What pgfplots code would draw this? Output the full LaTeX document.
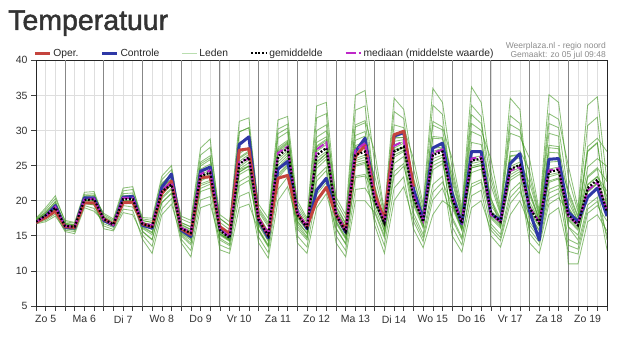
\documentclass[border=0pt]{standalone}
\usepackage{pgfplots}
\pgfplotsset{compat=1.18}
\usepackage{pgfplotstable}
\usepackage{fontspec}
\setmainfont{Liberation Sans}
\newfontfamily\titlefont{Liberation Sans}[FakeBold=1.6]
\definecolor{oper}{RGB}{196,68,62}
\definecolor{ctrl}{RGB}{46,56,166}
\definecolor{leden}{RGB}{66,152,34}
\definecolor{ledenlg}{RGB}{185,222,175}
\definecolor{med}{RGB}{190,40,200}
\definecolor{txt}{RGB}{51,51,51}
\definecolor{gridc}{RGB}{222,222,222}
\definecolor{daygrid}{RGB}{135,135,135}

\pgfplotstableread{
i oper ctrl mean med m1 m2 m3 m4 m5 m6 m7 m8 m9 m10 m11 m12 a1 a2 a3 a4 a5 a6
0 16.9 16.9 17.0 17.0 16.7 16.8 16.9 16.9 17.0 17.0 17.0 17.1 17.1 17.3 17.4 17.5 16.85 16.95 17.0 17.1 17.2 17.25
1 17.6 17.8 17.9 17.8 17.0 17.2 17.4 17.6 17.7 17.7 17.9 18.0 18.1 18.4 18.7 19.0 17.45 17.6 17.75 18.0 18.2 18.35
2 18.5 19.3 19.0 19.1 17.8 18.1 18.4 18.7 18.9 18.9 19.1 19.2 19.4 19.9 20.3 20.7 18.45 18.65 18.9 19.3 19.6 19.8
3 16.3 16.2 16.4 16.4 15.8 15.6 16.2 16.0 16.3 16.3 16.5 16.5 16.8 16.6 17.2 17.0 16.15 16.05 16.5 16.3 16.75 16.65
4 16.2 16.1 16.3 16.3 15.6 15.3 16.1 15.8 16.2 16.2 16.4 16.4 16.6 16.5 16.9 16.8 16.0 15.85 16.35 16.15 16.55 16.5
5 19.7 20.4 20.1 20.2 19.3 19.0 19.8 19.6 20.0 20.0 20.3 20.2 20.7 20.4 21.2 20.9 19.8 19.6 20.25 20.0 20.6 20.45
6 19.7 20.4 20.2 20.3 18.9 18.5 19.8 19.4 20.1 20.0 20.4 20.3 20.8 20.5 21.3 21.0 19.65 19.4 20.3 19.95 20.7 20.5
7 17.4 17.2 17.4 17.4 16.7 17.1 16.0 16.4 17.5 17.5 17.3 17.3 18.0 18.2 17.6 17.8 17.0 17.2 17.0 17.3 17.55 17.65
8 16.6 16.5 16.6 16.6 16.2 16.4 15.7 15.9 16.7 16.7 16.5 16.5 17.2 17.4 16.8 17.0 16.35 16.45 16.45 16.65 16.75 16.85
9 19.7 20.5 20.2 20.4 19.3 19.7 18.3 18.8 20.4 20.4 20.0 20.0 21.4 21.8 20.6 21.0 19.65 19.85 19.85 20.3 20.5 20.7
10 19.8 20.6 20.2 20.4 19.1 19.7 18.0 18.6 20.4 20.5 20.0 20.0 21.6 22.0 20.7 21.1 19.55 19.85 19.8 20.3 20.55 20.8
11 16.7 16.5 16.7 16.8 16.6 15.6 15.1 14.5 16.2 16.9 17.2 16.5 17.6 16.8 16.8 17.4 16.9 16.05 16.35 15.65 16.5 17.15
12 16.3 16.1 16.3 16.5 16.1 14.4 13.5 12.5 15.4 16.6 16.9 15.9 17.5 16.5 16.5 17.2 16.5 15.15 15.5 14.5 15.95 16.9
13 21.0 21.9 21.3 21.5 21.1 19.7 18.8 18.0 20.5 21.9 22.4 20.9 23.5 21.5 21.6 23.0 21.75 20.3 21.15 19.75 21.05 22.45
14 22.8 23.8 22.3 22.6 22.3 21.0 20.3 19.5 21.8 23.1 23.8 22.2 25.0 22.7 22.8 24.4 23.05 21.6 22.65 21.1 22.3 23.75
15 16.0 15.8 16.0 16.1 15.5 16.2 14.0 15.0 14.5 17.4 17.8 15.8 16.5 15.8 16.9 16.3 16.65 16.0 15.25 15.4 15.7 16.85
16 15.2 14.9 15.4 15.6 14.6 15.6 12.0 13.7 12.9 16.8 17.2 15.2 15.9 15.0 16.3 15.7 15.9 15.4 13.95 14.35 14.6 16.25
17 23.3 24.2 23.5 23.8 22.4 23.8 19.0 21.3 20.1 26.5 27.5 23.2 24.5 23.0 25.5 24.0 24.95 23.5 21.75 22.15 22.8 25.25
18 23.4 24.8 24.0 24.3 22.9 24.3 19.5 21.8 20.6 27.6 28.8 23.7 25.2 23.5 26.4 24.6 25.85 24.0 22.35 22.65 23.5 26.1
19 16.3 16.1 15.8 16.0 16.0 15.5 14.4 13.7 13.0 18.0 16.4 15.1 16.1 15.6 17.5 16.9 16.2 15.3 15.25 14.65 15.25 17.45
20 15.3 14.9 14.7 14.9 14.9 14.5 13.6 13.1 12.5 17.0 15.3 14.2 15.0 14.5 16.4 15.9 15.1 14.35 14.3 13.8 14.45 16.45
21 27.2 28.0 25.2 25.5 25.6 24.5 22.1 20.6 19.0 31.3 26.7 23.7 26.0 24.8 29.8 28.3 26.15 24.1 24.05 22.7 24.4 29.8
22 27.4 29.1 26.2 26.0 26.6 25.4 22.9 21.2 19.5 31.8 27.6 24.5 26.9 25.8 30.4 29.0 27.1 24.95 24.9 23.5 24.95 30.4
23 17.5 17.3 17.3 17.5 17.9 17.1 16.5 14.0 15.7 18.4 17.5 14.8 16.9 17.6 19.5 19.0 17.7 15.95 16.7 15.8 17.6 18.7
24 15.1 14.7 15.0 15.2 15.6 14.8 14.2 11.8 13.4 16.3 15.2 12.6 14.6 15.3 17.5 16.9 15.4 13.7 14.4 13.55 15.45 16.6
25 23.2 24.5 26.3 26.8 27.6 25.9 24.7 20.0 23.2 28.9 26.7 21.6 25.5 27.0 31.5 30.2 27.15 23.75 25.1 23.5 27.35 29.55
26 23.6 25.6 27.5 27.7 28.6 27.1 26.1 22.0 24.8 29.8 27.9 23.4 26.8 28.1 32.0 30.9 28.25 25.25 26.45 25.05 28.4 30.35
27 18.2 18.4 18.0 18.3 19.0 18.3 15.0 17.0 14.0 18.2 17.5 16.0 17.7 20.0 19.5 18.5 18.25 17.15 16.35 18.5 16.75 18.35
28 16.3 16.0 16.2 16.3 16.9 16.4 13.4 15.3 12.5 16.3 15.8 14.4 15.9 17.5 17.2 16.5 16.35 15.4 14.65 16.4 14.85 16.4
29 20.0 21.5 26.5 27.3 30.0 27.4 20.9 24.6 19.0 27.0 25.6 22.8 26.0 33.5 31.8 28.3 27.8 25.1 23.45 29.05 25.4 27.65
30 21.9 23.2 27.5 28.3 30.8 28.3 22.6 25.9 21.0 28.0 26.7 24.3 27.0 34.0 32.4 29.1 28.75 26.3 24.8 29.95 26.7 28.55
31 18.0 18.0 18.0 18.2 20.5 18.6 14.0 17.5 16.0 17.0 17.7 15.0 18.2 19.9 18.3 19.3 19.1 16.8 16.1 18.7 17.15 18.15
32 15.8 15.5 15.6 15.8 18.0 16.2 12.0 15.2 13.8 14.7 15.3 12.9 15.8 17.4 15.9 16.8 16.65 14.55 13.9 16.3 14.85 15.75
33 26.3 27.0 26.5 27.2 35.0 28.6 20.0 25.7 23.3 24.9 26.0 21.6 27.0 32.9 27.6 30.8 30.5 25.1 23.5 29.3 25.45 27.85
34 27.9 28.9 27.0 28.2 35.7 29.2 20.0 26.2 23.5 25.3 26.5 21.8 27.5 33.5 28.1 31.4 31.1 25.5 23.75 29.85 25.8 28.35
35 21.0 20.8 20.0 20.2 25.3 20.3 18.3 20.9 17.4 16.5 19.1 19.6 23.5 21.8 19.7 27.0 22.2 19.95 20.9 21.35 18.55 21.75
36 17.3 17.0 16.8 17.0 18.1 16.9 14.7 17.0 13.6 12.5 15.7 16.3 17.7 17.2 16.5 18.5 16.9 16.6 16.2 17.1 15.05 15.5
37 29.4 29.2 27.0 27.8 32.7 27.5 23.5 28.0 21.8 20.0 25.3 26.2 30.8 28.9 26.5 34.6 29.0 26.85 27.15 28.45 24.15 27.3
38 29.9 29.7 27.7 28.5 31.7 28.2 24.9 28.4 23.4 22.0 26.3 27.0 30.4 29.0 27.2 33.0 29.0 27.6 27.65 28.7 25.3 27.5
39 22.0 21.7 20.5 20.8 21.2 23.3 20.0 21.9 16.0 17.1 18.3 20.9 26.0 20.1 19.4 24.6 19.75 22.1 23.0 21.0 17.7 20.85
40 nan 17.3 17.0 17.2 17.3 18.3 16.6 17.6 13.3 14.2 15.2 17.2 19.5 16.8 16.1 18.9 16.25 17.75 18.05 17.2 14.7 16.55
41 nan 27.5 26.5 26.8 27.7 31.3 25.5 28.9 18.0 20.1 22.3 27.0 36.0 26.0 24.4 33.6 25.0 29.15 30.75 27.45 21.2 26.85
42 nan 28.2 27.0 27.3 27.9 30.5 26.2 28.8 20.0 21.8 23.5 27.5 34.0 26.5 25.3 32.3 25.7 29.0 30.1 27.65 22.65 27.05
43 nan 21.0 20.3 20.5 19.7 26.0 20.7 23.2 19.0 17.7 15.0 21.7 24.6 16.3 19.9 21.0 17.35 23.85 22.65 19.75 19.45 19.35
44 nan 16.7 16.8 17.0 16.3 19.0 17.0 17.9 15.8 14.8 12.7 17.4 18.5 13.7 16.5 17.1 14.5 18.2 17.75 15.8 16.15 15.95
45 nan 27.0 25.7 26.0 24.9 36.2 26.1 31.0 24.0 22.4 19.0 28.3 33.6 20.7 25.3 27.0 21.95 32.25 29.85 25.85 24.65 24.7
46 nan 27.0 26.0 26.2 25.3 34.0 26.4 30.0 24.5 23.0 20.0 28.0 32.0 21.5 25.6 27.0 22.65 31.0 29.2 25.75 25.05 25.0
47 nan 18.1 18.3 18.0 16.7 24.1 20.2 26.0 18.0 17.9 15.8 22.2 19.3 15.0 18.6 17.5 16.25 23.15 19.75 20.5 18.3 17.7
48 nan 17.2 17.0 17.0 15.2 18.5 17.5 19.0 16.8 16.6 14.3 18.0 17.3 13.4 17.2 16.1 14.75 18.25 17.4 16.2 17.0 16.35
49 nan 25.3 24.5 24.3 21.3 32.1 27.0 34.6 24.1 23.7 19.6 29.6 25.8 18.0 24.9 22.9 20.45 30.85 26.4 26.3 24.5 23.3
50 nan 26.7 25.1 24.8 22.6 31.0 27.1 33.0 24.7 24.5 21.3 29.1 26.1 20.0 25.5 23.8 21.95 30.05 26.6 26.5 25.1 24.15
51 nan 18.5 19.0 19.0 14.0 20.8 24.3 19.4 19.9 18.6 17.8 26.0 18.4 16.5 22.5 15.3 15.9 23.4 21.35 17.95 21.2 16.95
52 nan 14.4 16.8 17.0 12.5 17.2 18.1 17.0 17.1 16.5 15.7 18.5 16.3 14.7 17.7 13.6 14.1 17.85 17.2 15.85 17.4 15.05
53 nan 25.9 24.1 24.3 18.0 26.9 32.4 24.5 25.5 23.7 22.6 35.1 23.4 21.1 29.6 19.5 20.3 31.0 27.9 22.8 27.55 21.6
54 nan 26.0 24.4 24.6 19.0 26.8 31.6 24.8 25.6 24.0 23.1 34.0 23.8 21.7 29.2 20.4 21.05 30.4 27.7 23.25 27.4 22.2
55 nan 18.4 18.0 17.8 12.8 18.9 25.0 17.6 21.5 19.8 14.5 23.3 16.3 17.2 11.0 18.4 13.65 21.1 20.65 17.4 16.25 19.1
56 nan 17.0 16.5 16.6 12.4 16.8 19.0 16.2 17.8 17.1 13.8 18.4 15.1 15.8 11.0 16.7 13.1 17.6 17.05 16.0 14.4 16.9
57 nan 20.5 21.8 21.5 18.2 23.3 33.6 21.4 27.7 24.8 19.4 30.7 20.6 21.2 17.0 22.2 18.8 27.0 27.1 21.3 22.35 23.5
58 nan 21.8 23.0 22.6 19.3 24.5 34.8 22.6 28.9 26.0 20.5 31.9 21.8 22.4 18.0 23.4 19.9 28.2 28.3 22.5 23.45 24.7
59 nan 17.8 18.4 18.6 17.1 18.0 22.7 17.8 27.0 24.9 13.0 19.5 14.4 18.8 15.7 20.6 15.05 18.75 18.55 18.3 21.35 22.75
}\data

\begin{document}
\begin{tikzpicture}[x=1pt,y=1pt]
\useasboundingbox (0,0) rectangle (620,347);
\node[anchor=base west, font=\titlefont\fontsize{28.5}{30}\selectfont, text=txt, inner sep=0pt] at (8,317) {Temperatuur};
\node[anchor=base east, font=\fontsize{8.5}{10}\selectfont, text=black!45, inner sep=0pt] at (606,298.5) {Weerplaza.nl - regio noord};
\node[anchor=base east, font=\fontsize{8.5}{10}\selectfont, text=black!45, inner sep=0pt] at (606,289.5) {Gemaakt: zo 05 jul 09:48};
\begin{axis}[
  at={(36pt,41pt)}, anchor=south west, scale only axis,
  width=571pt, height=245.7pt,
  xmin=0, xmax=59, ymin=5, ymax=40,
  ytick={5,10,...,40},
  xtick={1,5,...,57},
  xticklabels={Zo 5,Ma 6,Di 7,Wo 8,Do 9,Vr 10,Za 11,Zo 12,Ma 13,Di 14,Wo 15,Do 16,Vr 17,Za 18,Zo 19},
  minor xtick={0,...,59},
  extra x ticks={3,7,...,55},
  extra x tick labels={},
  extra x tick style={grid style={daygrid, line width=0.9pt}},
  xmajorgrids, xminorgrids, ymajorgrids,
  grid style={gridc, line width=0.6pt},
  minor grid style={gridc, line width=0.6pt},
  tick align=outside, xtick pos=bottom, ytick pos=left,
  major tick length=5pt, minor tick length=5pt,
  tick style={black!75, line width=0.6pt},
  axis line style={black!85, line width=0.9pt},
  /pgf/number format/assume math mode=true,
  yticklabel style={font=\fontsize{10.5}{12}\selectfont, text=txt},
  xticklabel style={font=\fontsize{10.5}{12}\selectfont, text=txt, yshift=-1pt},
  legend columns=-1,
  legend style={at={(rel axis cs:-0.005,1.0285)}, anchor=west, draw=none, fill=none, inner sep=0pt,
    font=\fontsize{10.3}{12}\selectfont, text=black!85,
    /tikz/every even column/.append style={column sep=20pt}},
  legend image code/.code={\draw[#1] (0pt,0pt) -- (15pt,0pt);},
]
\pgfplotsinvokeforeach{1,...,12}{
  \addplot[leden, opacity=0.6, line width=0.85pt, forget plot] table[x=i,y=m#1]{\data};
}
\pgfplotsinvokeforeach{1,...,6}{
  \addplot[leden, opacity=0.6, line width=0.85pt, forget plot] table[x=i,y=a#1]{\data};
}
\addplot[ctrl, line width=3pt, line join=round, forget plot] table[x=i,y=ctrl]{\data};
\addplot[oper, line width=3pt, line join=round, forget plot] table[x=i,y=oper]{\data};
\addplot[med, line width=2pt, dash pattern=on 8pt off 3pt, forget plot] table[x=i,y=med]{\data};
\addplot[black, line width=2.2pt, dash pattern=on 1.8pt off 1.8pt, forget plot] table[x=i,y=mean]{\data};
\addlegendimage{oper, line width=3pt}
\addlegendimage{ctrl, line width=3pt}
\addlegendimage{ledenlg, line width=1pt}
\addlegendimage{black, line width=2.2pt, dash pattern=on 1.8pt off 1.8pt}
\addlegendimage{med, line width=2pt, dash pattern=on 10pt off 3pt}
\legend{Oper.,Controle,Leden,gemiddelde,mediaan (middelste waarde)}
\end{axis}
\end{tikzpicture}
\end{document}
